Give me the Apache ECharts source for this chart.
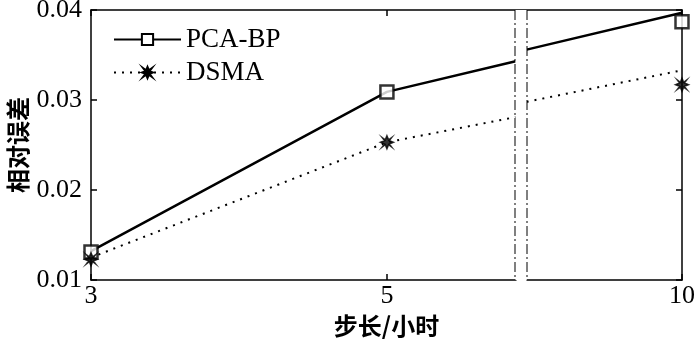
<!DOCTYPE html>
<html lang="zh">
<head>
<meta charset="UTF-8">
<script src="https://cdn.jsdelivr.net/npm/echarts@6.0.0/dist/echarts.min.js"></script>
<style>
  html, body { margin: 0; padding: 0; background: #fff; }
  #container { width: 700px; height: 343px; }
</style>
</head>
<body>
<div id="container"></div>
<script>
// 横轴刻度与纵轴范围
var xTicks = [3, 5, 10];
var yTicks = [0.01, 0.02, 0.03, 0.04];
// 横轴断开区间
var xBreak = [5.87, 8.95];

// 折线（断轴两侧的端点，'-' 让线在断开处断开）
var pcaLine = [[3, 0.0132], [5, 0.0309], [5.87, 0.0343], [7, '-'], [8.95, 0.0356], [10, 0.0397]];
var dsmaLine = [[3, 0.0125], [5, 0.0253], [5.87, 0.0281], [7, '-'], [8.95, 0.0298], [10, 0.0333]];
// 标记点
var pcaMarks = [[3, 0.0131], [5, 0.0309], [10, 0.0387]];
var dsmaMarks = [[3, 0.0123], [5, 0.0253], [10, 0.0317]];

var serif = 'Liberation Serif';
var cjk = 'Noto Sans CJK SC';
var starPath = 'path://M0,-7 L1.8,-2.6 L5,-5 L2.6,-1.8 L7,0 L2.6,1.8 L5,5 L1.8,2.6 L0,7 L-1.8,2.6 L-5,5 L-2.6,1.8 L-7,0 L-2.6,-1.8 L-5,-5 L-1.8,-2.6 Z';

var myChart = echarts.init(document.getElementById('container'));

var tickIn = { show: true, inside: true, length: 6, lineStyle: { color: '#000', width: 1.5 } };
var axisLineStyle = { show: true, lineStyle: { color: '#000', width: 1.5 } };

var option = {
  animation: false,
  backgroundColor: '#fff',
  grid: { left: 91, right: 18, top: 10, bottom: 63, outerBoundsMode: 'none', containLabel: false },
  legend: {
    data: ['PCA-BP', 'DSMA'],
    orient: 'vertical',
    left: 108,
    top: 21,
    itemWidth: 67,
    itemHeight: 14,
    itemGap: 6,
    textStyle: { fontFamily: serif, fontSize: 27, color: '#000' }
  },
  xAxis: [{
    type: 'value',
    min: 3,
    max: 10,
    breaks: [{ start: xBreak[0], end: xBreak[1], gap: '1.86%' }],
    breakArea: {
      show: true,
      zigzagAmplitude: 0,
      expandOnClick: false,
      itemStyle: { color: '#fff', opacity: 1, borderColor: '#000', borderWidth: 2, borderType: [10, 3, 2, 3] }
    },
    axisLine: axisLineStyle,
    axisTick: Object.assign({ customValues: xTicks }, tickIn),
    axisLabel: { customValues: xTicks, color: '#000', fontFamily: serif, fontSize: 26, margin: 3 },
    splitLine: { show: false },
    name: '步长/小时',
    nameLocation: 'middle',
    nameGap: 34,
    nameTextStyle: { fontFamily: cjk, fontWeight: 'bold', fontSize: 24, color: '#000' }
  }, {
    // 顶部刻度（与底轴同样断开）
    type: 'value',
    position: 'top',
    min: 3,
    max: 10,
    breaks: [{ start: xBreak[0], end: xBreak[1], gap: '1.86%' }],
    breakArea: { show: false },
    axisLine: { show: false },
    axisTick: Object.assign({ customValues: xTicks }, tickIn),
    axisLabel: { show: false },
    splitLine: { show: false }
  }, {
    // 顶部边框线，不断开
    type: 'value',
    position: 'top',
    min: 3,
    max: 10,
    axisLine: axisLineStyle,
    axisTick: { show: false },
    axisLabel: { show: false },
    splitLine: { show: false }
  }],
  yAxis: [{
    type: 'value',
    min: yTicks[0],
    max: yTicks[yTicks.length - 1],
    interval: 0.01,
    axisLine: axisLineStyle,
    axisTick: tickIn,
    axisLabel: {
      color: '#000', fontFamily: serif, fontSize: 26, margin: 9,
      formatter: function (v) { return v.toFixed(2); }
    },
    splitLine: { show: false },
    name: '相对误差',
    nameLocation: 'middle',
    nameGap: 61,
    nameMoveOverlap: false,
    nameTextStyle: { fontFamily: cjk, fontWeight: 'bold', fontSize: 24, color: '#000' }
  }, {
    type: 'value',
    position: 'right',
    min: yTicks[0],
    max: yTicks[yTicks.length - 1],
    interval: 0.01,
    axisLine: axisLineStyle,
    axisTick: tickIn,
    axisLabel: { show: false },
    splitLine: { show: false }
  }],
  series: [
    {
      name: 'PCA-BP',
      type: 'line',
      data: pcaLine,
      showSymbol: false,
      symbol: 'rect',
      symbolSize: 13,
      itemStyle: { color: '#fff', borderColor: '#000', borderWidth: 2.5 },
      lineStyle: { color: '#000', width: 2.5 },
      connectNulls: false,
      z: 2
    },
    {
      name: 'DSMA',
      type: 'line',
      data: dsmaLine,
      showSymbol: false,
      symbol: starPath,
      symbolSize: 13,
      itemStyle: { color: '#000', borderColor: '#000', borderWidth: 1.5 },
      lineStyle: { color: '#000', width: 2, type: [2, 6] },
      connectNulls: false,
      z: 2
    },
    {
      name: 'PCA-BP',
      type: 'scatter',
      data: pcaMarks,
      symbol: 'rect',
      symbolSize: 13,
      itemStyle: { color: '#fff', borderColor: '#000', borderWidth: 2.5 },
      z: 3
    },
    {
      name: 'DSMA',
      type: 'scatter',
      data: dsmaMarks,
      symbol: starPath,
      symbolSize: 13,
      itemStyle: { color: '#000', borderColor: '#000', borderWidth: 1.5 },
      z: 3
    }
  ]
};

myChart.setOption(option);
</script>
</body>
</html>
